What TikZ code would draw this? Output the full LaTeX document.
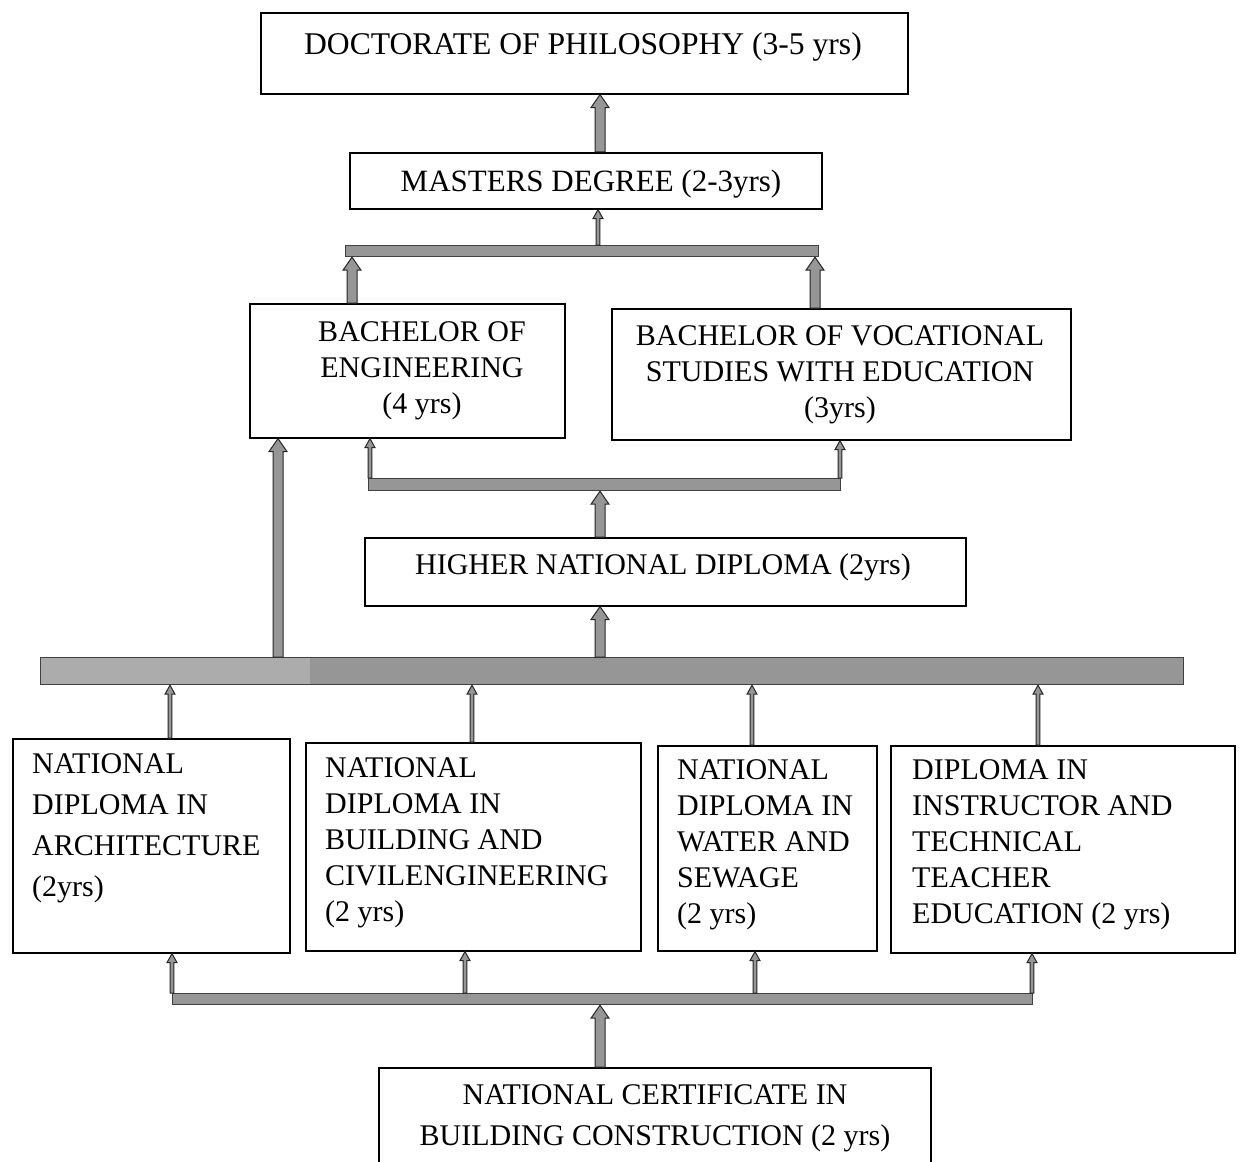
\documentclass[tikz,border=0pt]{standalone}
\usepackage{fontspec}
\setmainfont{Liberation Serif}
\usetikzlibrary{calc}
\definecolor{barfill}{RGB}{150,150,150}
\definecolor{barlight}{RGB}{172,172,172}
\tikzset{
  box/.style={draw=black, line width=1.6pt, fill=white, inner sep=0pt, anchor=north west},
  bar/.style={draw=black!75, line width=1.2pt, fill=barfill, inner sep=0pt, anchor=north west},
  txt/.style={inner sep=0pt, font=\fontsize{30}{36}\selectfont},
  txtwide/.style={inner sep=0pt, font=\fontsize{30}{41}\selectfont},
  arrbody/.style={draw=black!85, line width=1pt, fill=barfill, line join=miter}
}
\newcommand\blockup[6]{%
  \filldraw[arrbody] let \p1=(#2), \p2=(#3) in
   ({#1pt-#4pt},\y1) -- ({#1pt-#4pt},{\y2-#6pt}) -- ({#1pt-#5pt},{\y2-#6pt}) -- (#1pt,\y2)
   -- ({#1pt+#5pt},{\y2-#6pt}) -- ({#1pt+#4pt},{\y2-#6pt}) -- ({#1pt+#4pt},\y1) -- cycle;}
\newcommand\arrowbig[3]{\blockup{#1}{#2}{#3}{5}{9}{13}}
\newcommand\arrowsmall[3]{\blockup{#1}{#2}{#3}{1.8}{5}{9}}
\begin{document}
\begin{tikzpicture}[x=1pt,y=-1pt]
\useasboundingbox (0,0) rectangle (1241,1161);
\clip (0,0) rectangle (1241,1161);

% boxes
\node[box, minimum width=647pt, minimum height=81pt]  (phd)     at (260,12)   {};
\node[box, minimum width=472pt, minimum height=56pt]  (masters) at (349,152)  {};
\node[box, minimum width=315pt, minimum height=134pt] (beng)    at (249,303)  {};
\node[box, minimum width=459pt, minimum height=131pt] (bvse)    at (611,308)  {};
\node[box, minimum width=601pt, minimum height=68pt]  (hnd)     at (364,537)  {};
\node[box, minimum width=277pt, minimum height=214pt] (arch)    at (12,738)   {};
\node[box, minimum width=335pt, minimum height=208pt] (bce)     at (305,742)  {};
\node[box, minimum width=219pt, minimum height=205pt] (ws)      at (657,745)  {};
\node[box, minimum width=344pt, minimum height=207pt] (instr)   at (890,745)  {};
\node[box, minimum width=552pt, minimum height=110pt] (nc)      at (378,1067) {};

% bars
\node[bar, minimum width=473pt, minimum height=11pt]  (topbar)  at (345,245) {};
\node[bar, minimum width=472pt, minimum height=12pt]  (midbar)  at (368,478) {};
\node[bar, minimum width=1143pt, minimum height=27pt] (widebar) at (40,657)  {};
\fill[barlight] ($(widebar.north west)+(1,1)$) rectangle ($(widebar.south west)+(270,-1)$);
\node[bar, minimum width=860pt, minimum height=11pt]  (botbar)  at (172,993) {};

% texts
\node[txt, font=\fontsize{31.6}{36}\selectfont, anchor=north] (phdt) at (583,32) {DOCTORATE OF PHILOSOPHY (3-5 yrs)};
\node[txt, font=\fontsize{31}{36}\selectfont, anchor=north] (mast) at (591,170) {MASTERS DEGREE (2-3yrs)};
\node[txt, anchor=north, align=center] (bengt) at (422,321) {BACHELOR OF\\ENGINEERING\\(4 yrs)};
\node[txt, anchor=north, align=center] (bvset) at (840,325) {BACHELOR OF VOCATIONAL\\STUDIES WITH EDUCATION\\(3yrs)};
\node[txt, anchor=north] (hndt) at (663,553) {HIGHER NATIONAL DIPLOMA (2yrs)};
\node[txtwide, anchor=north west, align=left] (archt) at (32,753) {NATIONAL\\DIPLOMA IN\\ARCHITECTURE\\(2yrs)};
\node[txt, anchor=north west, align=left] (bcet) at (325,757) {NATIONAL\\DIPLOMA IN\\BUILDING AND\\CIVILENGINEERING\\(2 yrs)};
\node[txt, anchor=north west, align=left] (wst) at (677,759) {NATIONAL\\DIPLOMA IN\\WATER AND\\SEWAGE\\(2 yrs)};
\node[txt, anchor=north west, align=left] (instrt) at (912,759) {DIPLOMA IN\\INSTRUCTOR AND\\TECHNICAL\\TEACHER\\EDUCATION (2 yrs)};
\node[txtwide, anchor=north, align=center] (nct) at (655,1084) {NATIONAL CERTIFICATE IN\\BUILDING CONSTRUCTION (2 yrs)};

% connectors
\arrowbig{600}{masters.north}{phd.south}
\arrowsmall{598}{topbar.north}{masters.south}
\arrowbig{352}{beng.north}{topbar.south}
\arrowbig{815}{bvse.north}{topbar.south}
\arrowsmall{370}{midbar.north}{beng.south}
\arrowsmall{840}{midbar.north}{bvse.south}
\arrowbig{600}{hnd.north}{midbar.south}
\arrowbig{600}{widebar.north}{hnd.south}
\arrowbig{278}{widebar.north}{beng.south}
\arrowsmall{170}{arch.north}{widebar.south}
\arrowsmall{472}{bce.north}{widebar.south}
\arrowsmall{752}{ws.north}{widebar.south}
\arrowsmall{1038}{instr.north}{widebar.south}
\arrowsmall{172}{botbar.north}{arch.south}
\arrowsmall{465}{botbar.north}{bce.south}
\arrowsmall{755}{botbar.north}{ws.south}
\arrowsmall{1032}{botbar.north}{instr.south}
\arrowbig{600}{nc.north}{botbar.south}
\end{tikzpicture}
\end{document}
